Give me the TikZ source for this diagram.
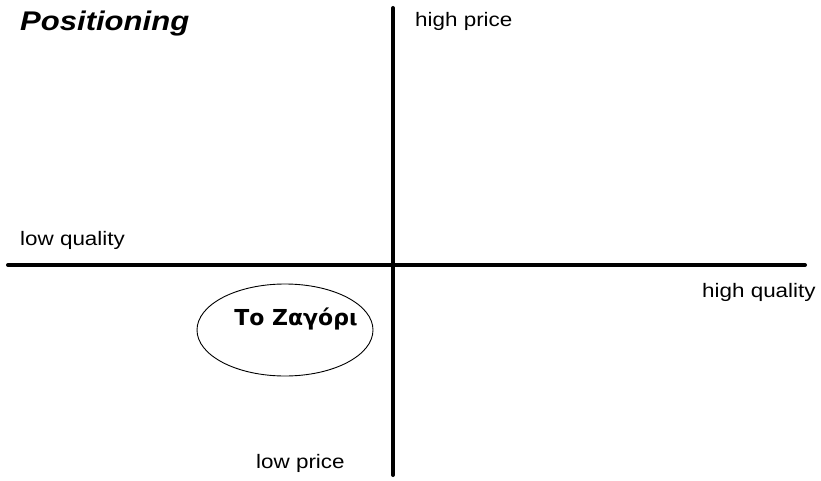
\documentclass[tikz,border=0pt]{standalone}
\usepackage{tikz}
\usepackage{xcolor}
\usepackage{fontspec}
\setmainfont{Liberation Sans}[FakeStretch=1.15]
\newfontfamily\greekfont{DejaVu Sans}
\usetikzlibrary{shapes.geometric, positioning}
\tikzset{
  axis/.style={line width=4pt, line cap=round},
  axlabel/.style={anchor=base west, inner sep=0pt, font=\fontsize{19.5}{20}\selectfont}
}

\begin{document}
\begin{tikzpicture}[x=1pt, y=-1pt]
            \useasboundingbox (0,0) rectangle (821,481);
            % axes
            \coordinate (top) at (393,8);
            \coordinate (bottom) at (393,475);
            \coordinate (left) at (8,265);
            \coordinate (right) at (805,265);
            \draw[axis] (bottom) -- (top);
            \draw[axis] (left) -- (right);

            \node[anchor=base west, inner sep=0pt, font=\fontsize{27}{28}\selectfont\bfseries\itshape] (title) at (20,31) {Positioning};
            \node[axlabel] (hiprice) at (415,27) {high price};
            \node[axlabel] (loprice) at (256,468) {low price};
            \node[axlabel] (loqual) at (20,245) {low quality};
            \node[axlabel] (hiqual) at (702,297) {high quality};

            \node[ellipse, draw, line width=0.9pt, minimum width=176, minimum height=92] (zagori) at (285,330) {};
            \node[anchor=base, inner sep=0pt, font=\greekfont\fontsize{22}{24}\selectfont\bfseries] (zagoritxt) at (296,325) {Το Ζαγόρι};
        \end{tikzpicture}
\end{document}
